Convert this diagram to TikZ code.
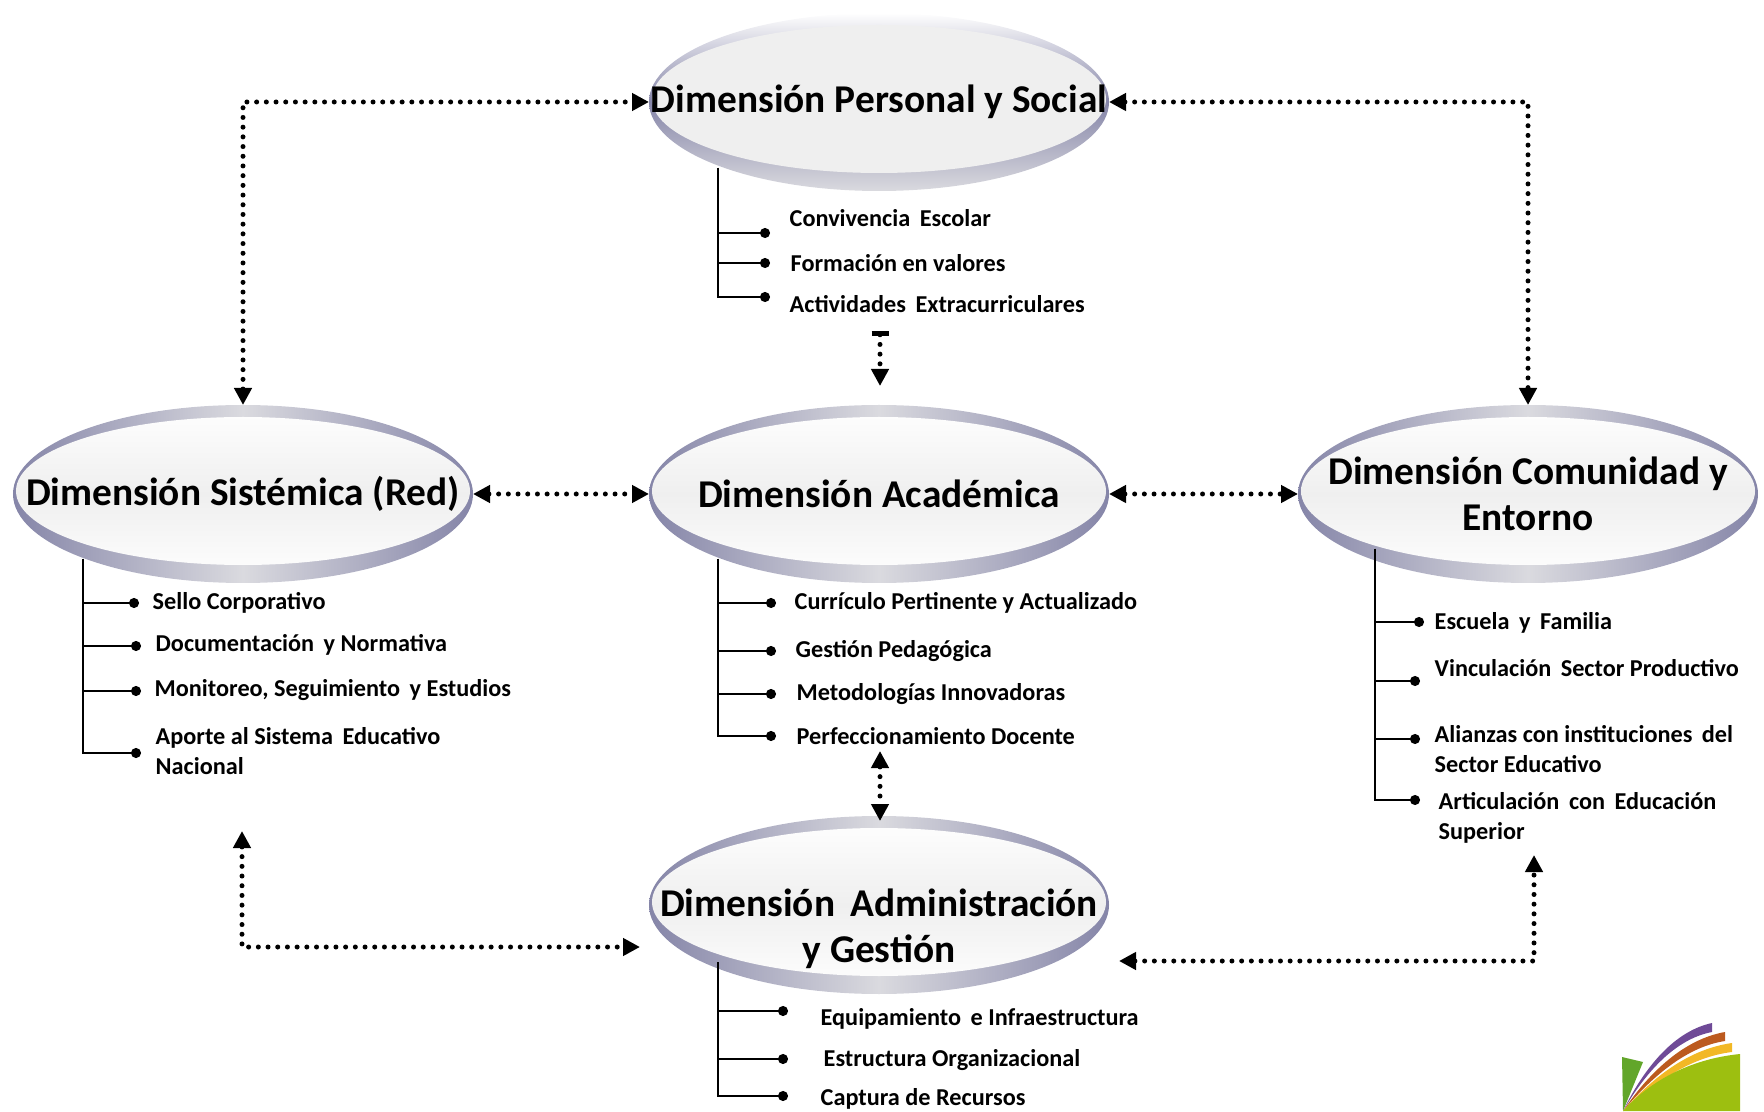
\documentclass[tikz,border=0pt]{standalone}
\usepackage{fontspec}
\setmainfont{Carlito}
\usetikzlibrary{arrows.meta,shapes.geometric}
\definecolor{rimblue}{HTML}{8585A8}
\definecolor{rimlight}{HTML}{DADADF}
\definecolor{glossgrey}{HTML}{EFEFEF}
\definecolor{logopurple}{HTML}{6F4A97}
\definecolor{logobrown}{HTML}{BC5A1E}
\definecolor{logoyellow}{HTML}{F2B825}
\definecolor{logogreen}{HTML}{9DBF10}
\definecolor{logodark}{HTML}{62A62A}
\tikzset{
    glossy/.style={ellipse,inner sep=0,outer sep=0,minimum width=4.6cm,minimum height=1.78cm,
        left color=rimblue,right color=rimblue,middle color=rimlight,
        path picture={\shade[top color=white,bottom color=white,middle color=glossgrey]
            ([yshift=0.03cm]path picture bounding box.center) ellipse [x radius=2.27cm,y radius=0.74cm];}},
    glossytop/.style={glossy,top color=white,bottom color=rimlight,middle color=rimblue,
        path picture={\fill[glossgrey]
            ([yshift=0.03cm]path picture bounding box.center) ellipse [x radius=2.27cm,y radius=0.74cm];}},
    titulo/.style={font=\fontsize{11.2}{13}\selectfont\bfseries,align=center,inner sep=0},
    item/.style={font=\fontsize{6.9}{8.6}\selectfont\bfseries,align=left,anchor=west,inner sep=0},
    puntos/.style={line width=0.05cm,line cap=round,dash pattern=on 0pt off 0.097cm},
    doble/.style={puntos,{Triangle[length=0.17cm,width=0.17cm]}-{Triangle[length=0.17cm,width=0.17cm]}},
    rama/.style={line width=0.016cm,-{Circle[length=0.1cm]}}
}
\begin{document}
\begin{tikzpicture}
    \useasboundingbox (0,0) rectangle (17.64,11.11);

    % dimensiones
    \node[glossytop,label={[titulo]center:Dimensión Personal y Social}] (personal) at (8.79,10.09) {};
    \node[glossy,label={[titulo]center:Dimensión Sistémica (Red)}] (sistemica) at (2.43,6.17) {};
    \node[glossy,label={[titulo]center:Dimensión Académica}] (academica) at (8.79,6.17) {};
    \node[glossy,label={[titulo]center:Dimensión Comunidad y\\Entorno}] (comunidad) at (15.28,6.17) {};
    \node[glossy,label={[titulo,yshift=-0.24cm]center:Dimensión\, Administración\\y Gestión}] (admin) at (8.79,2.06) {};

    % puntas libres
    \coordinate (barra) at (8.80,7.80);
    \coordinate (acaabajo) at (8.80,3.60);
    \coordinate (adminarriba) at (8.80,2.90);
    \coordinate (sisabajo) at (2.42,2.80);
    \coordinate (codo) at (2.42,1.64);
    \coordinate (adminizq) at (6.40,1.64);
    \coordinate (adminder) at (11.19,1.50);
    \coordinate (comabajo) at (15.34,2.56);

    % flechas punteadas
    \draw[doble] (sistemica.north) |- (personal.west);
    \draw[doble] (personal.east) -| (comunidad.north);
    \draw[doble] (sistemica.east) -- (academica.west);
    \draw[doble] (academica.east) -- (comunidad.west);
    \draw[puntos,{Bar[width=0.17cm,length=0.02cm]}-{Triangle[length=0.17cm,width=0.17cm]},shorten >=0.19cm] (barra) -- (academica.north-|barra);
    \draw[doble] (acaabajo) -- (adminarriba);
    \draw[doble] (sisabajo) |- (adminizq);
    \draw[doble] (adminder) -| (comabajo);

    % personal y social
    \coordinate (tp) at (7.18,9.43);
    \coordinate (p1) at (7.70,8.78);
    \coordinate (p2) at (7.70,8.48);
    \coordinate (p3) at (7.70,8.14);
    \node[item] (convivencia) at (7.89,8.93) {Convivencia\, Escolar};
    \node[item] (formacion) at (7.90,8.48) {Formación en valores};
    \node[item] (actividades) at (7.89,8.07) {Actividades\, Extracurriculares};
    \draw[rama] (tp) |- (p1);
    \draw[rama] (tp) |- (p2);
    \draw[rama] (tp) |- (p3);

    % sistemica
    \coordinate (ts) at (0.83,5.52);
    \coordinate (s1) at (1.39,5.08);
    \coordinate (s2) at (1.41,4.65);
    \coordinate (s3) at (1.41,4.20);
    \coordinate (s4) at (1.41,3.58);
    \node[item] (sello) at (1.52,5.08) {Sello Corporativo};
    \node[item] (documentacion) at (1.55,4.66) {Documentación\, y Normativa};
    \node[item] (monitoreo) at (1.54,4.21) {Monitoreo, Seguimiento\, y Estudios};
    \node[item] (aporte) at (1.55,3.60) {Aporte al Sistema\, Educativo\\Nacional};
    \draw[rama] (ts) |- (s1);
    \draw[rama] (ts) |- (s2);
    \draw[rama] (ts) |- (s3);
    \draw[rama] (ts) |- (s4);

    % academica
    \coordinate (ta) at (7.18,5.52);
    \coordinate (a1) at (7.76,5.08);
    \coordinate (a2) at (7.76,4.60);
    \coordinate (a3) at (7.76,4.17);
    \coordinate (a4) at (7.76,3.75);
    \node[item] (curriculo) at (7.94,5.08) {Currículo Pertinente y Actualizado};
    \node[item] (gestion) at (7.95,4.60) {Gestión Pedagógica};
    \node[item] (metodologias) at (7.96,4.17) {Metodologías Innovadoras};
    \node[item] (perfeccionamiento) at (7.96,3.75) {Perfeccionamiento Docente};
    \draw[rama] (ta) |- (a1);
    \draw[rama] (ta) |- (a2);
    \draw[rama] (ta) |- (a3);
    \draw[rama] (ta) |- (a4);

    % comunidad y entorno
    \coordinate (tc) at (13.75,5.62);
    \coordinate (c1) at (14.24,4.89);
    \coordinate (c2) at (14.20,4.30);
    \coordinate (c3) at (14.20,3.72);
    \coordinate (c4) at (14.20,3.11);
    \node[item] (escuela) at (14.34,4.88) {Escuela\, y\, Familia};
    \node[item] (vinculacion) at (14.34,4.43) {Vinculación\, Sector Productivo};
    \node[item] (alianzas) at (14.34,3.62) {Alianzas con instituciones\, del\\Sector Educativo};
    \node[item] (articulacion) at (14.38,2.93) {Articulación\, con\, Educación\\Superior};
    \draw[rama] (tc) |- (c1);
    \draw[rama] (tc) |- (c2);
    \draw[rama] (tc) |- (c3);
    \draw[rama] (tc) |- (c4);

    % administracion y gestion
    \coordinate (tg) at (7.18,1.49);
    \coordinate (g1) at (7.88,1.00);
    \coordinate (g2) at (7.88,0.52);
    \coordinate (g3) at (7.88,0.15);
    \node[item] (equipamiento) at (8.20,0.92) {Equipamiento\, e Infraestructura};
    \node[item] (estructura) at (8.23,0.51) {Estructura Organizacional};
    \node[item] (captura) at (8.20,0.12) {Captura de Recursos};
    \draw[rama] (tg) |- (g1);
    \draw[rama] (tg) |- (g2);
    \draw[rama] (tg) |- (g3);

    % logo
    \fill[logodark] (16.23,0)--(16.22,0.54)--(16.43,0.49)--cycle;
    \fill[logopurple] (16.23,0) .. controls (16.45,0.45) and (16.75,0.80) .. (17.12,0.88)--(17.12,0.79) .. controls (16.75,0.72) and (16.45,0.38) .. (16.23,0);
    \fill[logobrown] (16.23,0) .. controls (16.50,0.40) and (16.85,0.72) .. (17.25,0.79)--(17.25,0.70) .. controls (16.85,0.64) and (16.50,0.32) .. (16.23,0);
    \fill[logoyellow] (16.23,0) .. controls (16.55,0.36) and (16.90,0.62) .. (17.32,0.68)--(17.32,0.59) .. controls (16.90,0.54) and (16.55,0.28) .. (16.23,0);
    \fill[logogreen] (16.23,0) .. controls (16.50,0.30) and (16.90,0.52) .. (17.40,0.57)--(17.40,0)--cycle;
\end{tikzpicture}
\end{document}
